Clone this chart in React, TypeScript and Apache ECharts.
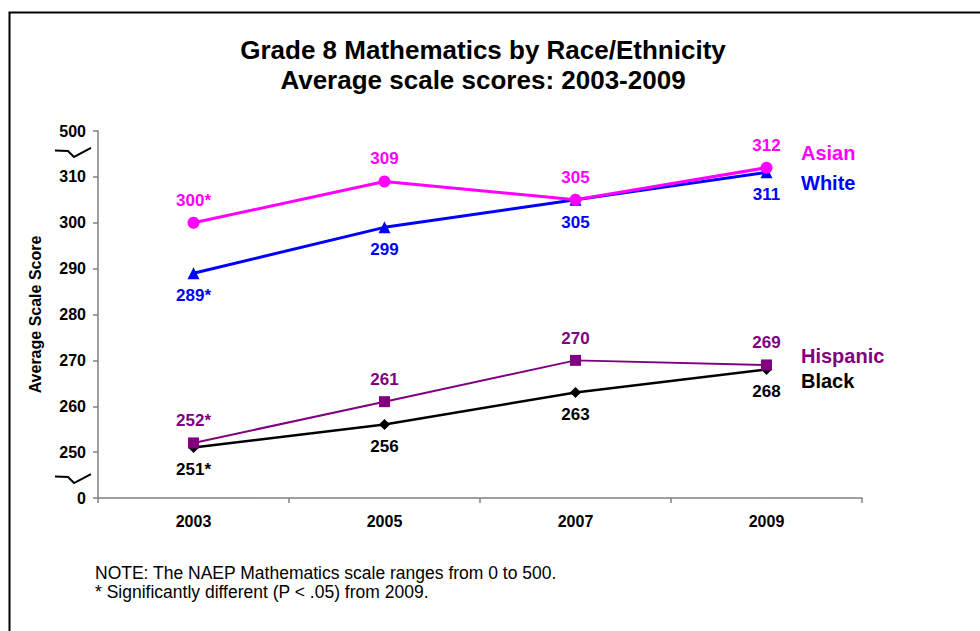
import React, { useEffect, useRef } from "react";
import * as echarts from "echarts";

// Assessment years and average scale scores by group
const years = ["2003", "2005", "2007", "2009"];
const asianScores = [300, 309, 305, 312];
const whiteScores = [289, 299, 305, 311];
const hispanicScores = [252, 261, 270, 269];
const blackScores = [251, 256, 263, 268];
// Years whose score differs significantly from 2009
const significant = [true, false, false, false];

// Broken y scale: the bottom and top positions stand for 0 and 500
const axisMin = 240;
const axisMax = 320;
const axisStep = 10;
const axisMinLabel = "0";
const axisMaxLabel = "500";

const titleLines = ["Grade 8 Mathematics by Race/Ethnicity", "Average scale scores: 2003-2009"];
const noteLines = [
  "NOTE: The NAEP Mathematics scale ranges from 0 to 500.",
  "* Significantly different (P < .05) from 2009.",
];

const FONT = "'Liberation Sans', Arial, Helvetica, sans-serif";

const COLORS = {
  asian: "#FF00FF",
  white: "#0000FF",
  hispanic: "#800080",
  black: "#000000",
};

const valueLabel = (color: string, position: "top" | "bottom") => ({
  show: true,
  position,
  distance: 8,
  color,
  fontFamily: FONT,
  fontSize: 17,
  fontWeight: "bold",
  formatter: (p: any) => `${p.value}${significant[p.dataIndex] ? "*" : ""}`,
});

export default function App() {
  const ref = useRef<HTMLDivElement>(null);

  useEffect(() => {
    if (!ref.current) return;
    const chart = echarts.init(ref.current, null, { renderer: "svg" });

    chart.setOption({
      animation: false,
      backgroundColor: "#ffffff",
      textStyle: { fontFamily: FONT },
      grid: { left: 98, right: 118, top: 131, bottom: 133, containLabel: false },
      xAxis: {
        type: "category",
        data: years,
        boundaryGap: true,
        axisLine: { lineStyle: { color: "#808080", width: 1.5 } },
        axisTick: { show: true, length: 5, lineStyle: { color: "#808080", width: 1.5 } },
        axisLabel: { color: "#000", fontFamily: FONT, fontSize: 16, fontWeight: "bold", margin: 15 },
        splitLine: { show: false },
      },
      yAxis: {
        type: "value",
        min: axisMin,
        max: axisMax,
        interval: axisStep,
        name: "Average Scale Score",
        nameLocation: "middle",
        nameRotate: 90,
        nameGap: 55,
        nameTextStyle: { color: "#000", fontFamily: FONT, fontSize: 16, fontWeight: "bold" },
        axisLine: { show: true, lineStyle: { color: "#808080", width: 1.5 } },
        axisTick: { show: true, length: 5, lineStyle: { color: "#808080", width: 1.5 } },
        axisLabel: {
          color: "#000",
          fontFamily: FONT,
          fontSize: 16,
          fontWeight: "bold",
          margin: 12,
          formatter: (v: number) =>
            v === axisMin ? axisMinLabel : v === axisMax ? axisMaxLabel : String(v),
        },
        splitLine: { show: false },
      },
      series: [
        {
          name: "White",
          type: "line",
          data: whiteScores,
          symbol: "triangle",
          symbolSize: 12,
          lineStyle: { color: COLORS.white, width: 3 },
          itemStyle: { color: COLORS.white },
          label: valueLabel(COLORS.white, "bottom"),
        },
        {
          name: "Asian",
          type: "line",
          data: asianScores,
          symbol: "circle",
          symbolSize: 12,
          lineStyle: { color: COLORS.asian, width: 3 },
          itemStyle: { color: COLORS.asian },
          label: valueLabel(COLORS.asian, "top"),
        },
        {
          name: "Black",
          type: "line",
          data: blackScores,
          symbol: "diamond",
          symbolSize: 11,
          lineStyle: { color: COLORS.black, width: 2.5 },
          itemStyle: { color: COLORS.black },
          label: valueLabel(COLORS.black, "bottom"),
        },
        {
          name: "Hispanic",
          type: "line",
          data: hispanicScores,
          symbol: "rect",
          symbolSize: 11,
          lineStyle: { color: COLORS.hispanic, width: 2 },
          itemStyle: { color: COLORS.hispanic },
          label: valueLabel(COLORS.hispanic, "top"),
        },
      ],
    });

    // Axis break marks, placed between the end ticks and their neighbours
    const yUpper = chart.convertToPixel({ yAxisIndex: 0 }, axisMax - axisStep / 2) as number;
    const yLower = chart.convertToPixel({ yAxisIndex: 0 }, axisMin + axisStep / 2) as number;
    const squiggle = (yc: number) => ({
      type: "polyline",
      shape: {
        points: [
          [55, yc],
          [68, yc + 0.5],
          [74, yc + 6.5],
          [91, yc - 2.5],
        ],
      },
      style: { stroke: "#000", lineWidth: 2, fill: "none" },
      silent: true,
    });

    const nameLabel = (text: string, y: number, color: string) => ({
      type: "text",
      x: 801,
      y,
      style: {
        text,
        fill: color,
        font: `bold 20px ${FONT}`,
        textAlign: "left",
        textVerticalAlign: "middle",
      },
    });

    chart.setOption({
      graphic: [
        {
          type: "rect",
          shape: { x: 9.5, y: 12.5, width: 1100, height: 800 },
          style: { fill: "none", stroke: "#000", lineWidth: 2 },
          silent: true,
        },
        ...titleLines.map((t, i) => ({
          type: "text",
          x: 483,
          y: 50 + i * 30,
          style: {
            text: t,
            fill: "#000",
            font: `bold 26px ${FONT}`,
            textAlign: "center",
            textVerticalAlign: "middle",
          },
        })),
        squiggle(yUpper - 3.5),
        squiggle(yLower + 1.5),
        nameLabel("Asian", 153, COLORS.asian),
        nameLabel("White", 183, COLORS.white),
        nameLabel("Hispanic", 356, COLORS.hispanic),
        nameLabel("Black", 381, COLORS.black),
        ...noteLines.map((t, i) => ({
          type: "text",
          x: 95,
          y: 573 + i * 19,
          style: {
            text: t,
            fill: "#000",
            font: `17.5px ${FONT}`,
            textAlign: "left",
            textVerticalAlign: "middle",
          },
        })),
      ],
    });

    return () => chart.dispose();
  }, []);

  return (
    <div
      ref={ref}
      style={{ position: "fixed", left: 0, top: 0, width: 980, height: 631, background: "#fff" }}
    />
  );
}
